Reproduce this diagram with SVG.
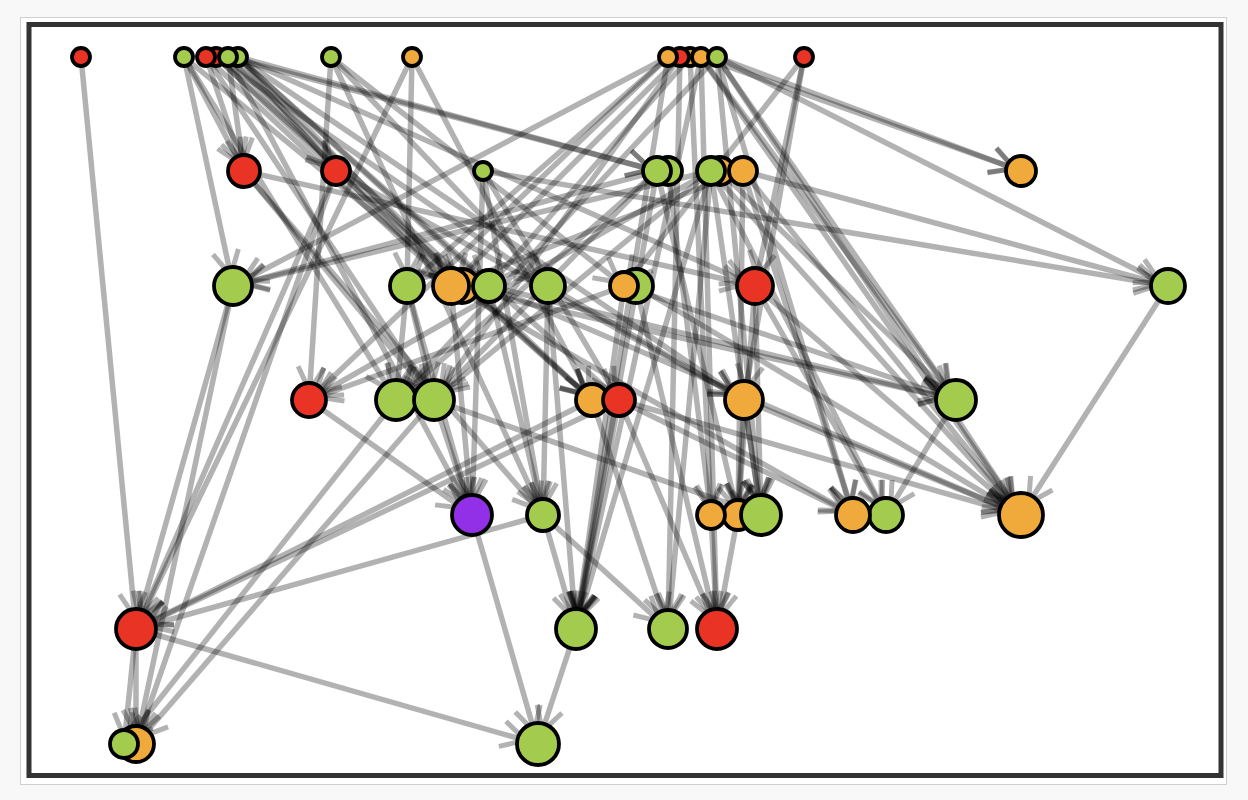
<svg xmlns="http://www.w3.org/2000/svg" width="1248" height="800" viewBox="0 0 1248 800">
<style>
.e{stroke:#000;stroke-opacity:.3;stroke-width:5.5;fill:none}
.ah{stroke:#000;stroke-opacity:.3;stroke-width:5;fill:none}
.n{stroke:#000;stroke-width:3.8}
.r{fill:#e93324}.g{fill:#a3cc4f}.o{fill:#f0a93b}.p{fill:#9130e6}
</style>
<defs>
<marker id="m14" markerUnits="userSpaceOnUse" orient="auto" refX="6" refY="0" markerWidth="20" markerHeight="20" overflow="visible"><path class="ah" d="M-24,-13L0,0L-24,13"/></marker>
<marker id="m15" markerUnits="userSpaceOnUse" orient="auto" refX="7" refY="0" markerWidth="20" markerHeight="20" overflow="visible"><path class="ah" d="M-24,-13L0,0L-24,13"/></marker>
<marker id="m16" markerUnits="userSpaceOnUse" orient="auto" refX="8" refY="0" markerWidth="20" markerHeight="20" overflow="visible"><path class="ah" d="M-24,-13L0,0L-24,13"/></marker>
<marker id="m17" markerUnits="userSpaceOnUse" orient="auto" refX="9" refY="0" markerWidth="20" markerHeight="20" overflow="visible"><path class="ah" d="M-24,-13L0,0L-24,13"/></marker>
<marker id="m18" markerUnits="userSpaceOnUse" orient="auto" refX="10" refY="0" markerWidth="20" markerHeight="20" overflow="visible"><path class="ah" d="M-24,-13L0,0L-24,13"/></marker>
<marker id="m19" markerUnits="userSpaceOnUse" orient="auto" refX="11" refY="0" markerWidth="20" markerHeight="20" overflow="visible"><path class="ah" d="M-24,-13L0,0L-24,13"/></marker>
<marker id="m20" markerUnits="userSpaceOnUse" orient="auto" refX="12" refY="0" markerWidth="20" markerHeight="20" overflow="visible"><path class="ah" d="M-24,-13L0,0L-24,13"/></marker>
<marker id="m21" markerUnits="userSpaceOnUse" orient="auto" refX="13" refY="0" markerWidth="20" markerHeight="20" overflow="visible"><path class="ah" d="M-24,-13L0,0L-24,13"/></marker>
<marker id="m22" markerUnits="userSpaceOnUse" orient="auto" refX="14" refY="0" markerWidth="20" markerHeight="20" overflow="visible"><path class="ah" d="M-24,-13L0,0L-24,13"/></marker>
</defs>
<rect x="0" y="0" width="1248" height="800" fill="#f8f8f8"/>
<rect x="20.5" y="17.5" width="1206" height="767" fill="#fff" stroke="#d0d0d0" stroke-width="1"/>
<rect x="29" y="24.5" width="1192" height="751" fill="#fff" stroke="#333" stroke-width="5"/>
<g id="edges">
<line class="e" x1="81" y1="57" x2="136" y2="629" marker-end="url(#m20)"/>
<line class="e" x1="184" y1="57" x2="244" y2="171" marker-end="url(#m16)"/>
<line class="e" x1="184" y1="57" x2="233" y2="286" marker-end="url(#m19)"/>
<line class="e" x1="184" y1="57" x2="396" y2="400" marker-end="url(#m20)"/>
<line class="e" x1="184" y1="57" x2="462" y2="286" marker-end="url(#m17)"/>
<line class="e" x1="206" y1="57" x2="244" y2="171" marker-end="url(#m16)"/>
<line class="e" x1="206" y1="57" x2="434" y2="400" marker-end="url(#m20)"/>
<line class="e" x1="206" y1="57" x2="451" y2="286" marker-end="url(#m18)"/>
<line class="e" x1="216" y1="57" x2="336" y2="171" marker-end="url(#m14)"/>
<line class="e" x1="216" y1="57" x2="548" y2="286" marker-end="url(#m17)"/>
<line class="e" x1="216" y1="57" x2="592" y2="400" marker-end="url(#m16)"/>
<line class="e" x1="228" y1="57" x2="244" y2="171" marker-end="url(#m16)"/>
<line class="e" x1="228" y1="57" x2="451" y2="286" marker-end="url(#m18)"/>
<line class="e" x1="228" y1="57" x2="472" y2="515" marker-end="url(#m20)"/>
<line class="e" x1="228" y1="57" x2="657" y2="171" marker-end="url(#m14)"/>
<line class="e" x1="228" y1="57" x2="592" y2="400" marker-end="url(#m16)"/>
<line class="e" x1="238" y1="57" x2="336" y2="171" marker-end="url(#m14)"/>
<line class="e" x1="238" y1="57" x2="489" y2="286" marker-end="url(#m16)"/>
<line class="e" x1="238" y1="57" x2="744" y2="400" marker-end="url(#m19)"/>
<line class="e" x1="238" y1="57" x2="657" y2="171" marker-end="url(#m14)"/>
<line class="e" x1="238" y1="57" x2="619" y2="400" marker-end="url(#m16)"/>
<line class="e" x1="238" y1="57" x2="755" y2="286" marker-end="url(#m18)"/>
<line class="e" x1="238" y1="57" x2="462" y2="286" marker-end="url(#m17)"/>
<line class="e" x1="331" y1="57" x2="309" y2="400" marker-end="url(#m17)"/>
<line class="e" x1="331" y1="57" x2="548" y2="286" marker-end="url(#m17)"/>
<line class="e" x1="331" y1="57" x2="624" y2="286" marker-end="url(#m14)"/>
<line class="e" x1="331" y1="57" x2="543" y2="515" marker-end="url(#m16)"/>
<line class="e" x1="412" y1="57" x2="407" y2="286" marker-end="url(#m17)"/>
<line class="e" x1="412" y1="57" x2="136" y2="629" marker-end="url(#m20)"/>
<line class="e" x1="412" y1="57" x2="592" y2="400" marker-end="url(#m16)"/>
<line class="e" x1="668" y1="57" x2="233" y2="286" marker-end="url(#m19)"/>
<line class="e" x1="668" y1="57" x2="407" y2="286" marker-end="url(#m17)"/>
<line class="e" x1="668" y1="57" x2="309" y2="400" marker-end="url(#m17)"/>
<line class="e" x1="668" y1="57" x2="576" y2="629" marker-end="url(#m20)"/>
<line class="e" x1="680" y1="57" x2="451" y2="286" marker-end="url(#m18)"/>
<line class="e" x1="680" y1="57" x2="668" y2="629" marker-end="url(#m19)"/>
<line class="e" x1="680" y1="57" x2="434" y2="400" marker-end="url(#m20)"/>
<line class="e" x1="690" y1="57" x2="489" y2="286" marker-end="url(#m16)"/>
<line class="e" x1="690" y1="57" x2="711" y2="515" marker-end="url(#m14)"/>
<line class="e" x1="701" y1="57" x2="576" y2="629" marker-end="url(#m20)"/>
<line class="e" x1="701" y1="57" x2="717" y2="629" marker-end="url(#m20)"/>
<line class="e" x1="701" y1="57" x2="1021" y2="171" marker-end="url(#m15)"/>
<line class="e" x1="701" y1="57" x2="956" y2="400" marker-end="url(#m20)"/>
<line class="e" x1="701" y1="57" x2="1021" y2="515" marker-end="url(#m22)"/>
<line class="e" x1="717" y1="57" x2="1021" y2="171" marker-end="url(#m15)"/>
<line class="e" x1="717" y1="57" x2="1168" y2="286" marker-end="url(#m17)"/>
<line class="e" x1="717" y1="57" x2="761" y2="515" marker-end="url(#m20)"/>
<line class="e" x1="717" y1="57" x2="853" y2="515" marker-end="url(#m17)"/>
<line class="e" x1="717" y1="57" x2="956" y2="400" marker-end="url(#m20)"/>
<line class="e" x1="717" y1="57" x2="1021" y2="515" marker-end="url(#m22)"/>
<line class="e" x1="717" y1="57" x2="396" y2="400" marker-end="url(#m20)"/>
<line class="e" x1="804" y1="57" x2="755" y2="286" marker-end="url(#m18)"/>
<line class="e" x1="804" y1="57" x2="624" y2="286" marker-end="url(#m14)"/>
<line class="e" x1="804" y1="57" x2="744" y2="400" marker-end="url(#m19)"/>
<line class="e" x1="244" y1="171" x2="755" y2="286" marker-end="url(#m18)"/>
<line class="e" x1="244" y1="171" x2="434" y2="400" marker-end="url(#m20)"/>
<line class="e" x1="244" y1="171" x2="543" y2="515" marker-end="url(#m16)"/>
<line class="e" x1="336" y1="171" x2="136" y2="629" marker-end="url(#m20)"/>
<line class="e" x1="336" y1="171" x2="136" y2="744" marker-end="url(#m18)"/>
<line class="e" x1="336" y1="171" x2="592" y2="400" marker-end="url(#m16)"/>
<line class="e" x1="336" y1="171" x2="744" y2="400" marker-end="url(#m19)"/>
<line class="e" x1="483" y1="171" x2="472" y2="515" marker-end="url(#m20)"/>
<line class="e" x1="483" y1="171" x2="1168" y2="286" marker-end="url(#m17)"/>
<line class="e" x1="483" y1="171" x2="619" y2="400" marker-end="url(#m16)"/>
<line class="e" x1="483" y1="171" x2="543" y2="515" marker-end="url(#m16)"/>
<line class="e" x1="657" y1="171" x2="576" y2="629" marker-end="url(#m20)"/>
<line class="e" x1="657" y1="171" x2="233" y2="286" marker-end="url(#m19)"/>
<line class="e" x1="657" y1="171" x2="396" y2="400" marker-end="url(#m20)"/>
<line class="e" x1="657" y1="171" x2="434" y2="400" marker-end="url(#m20)"/>
<line class="e" x1="657" y1="171" x2="738" y2="515" marker-end="url(#m15)"/>
<line class="e" x1="711" y1="171" x2="576" y2="629" marker-end="url(#m20)"/>
<line class="e" x1="711" y1="171" x2="668" y2="629" marker-end="url(#m19)"/>
<line class="e" x1="711" y1="171" x2="761" y2="515" marker-end="url(#m20)"/>
<line class="e" x1="711" y1="171" x2="886" y2="515" marker-end="url(#m17)"/>
<line class="e" x1="711" y1="171" x2="1021" y2="515" marker-end="url(#m22)"/>
<line class="e" x1="711" y1="171" x2="233" y2="286" marker-end="url(#m19)"/>
<line class="e" x1="711" y1="171" x2="309" y2="400" marker-end="url(#m17)"/>
<line class="e" x1="711" y1="171" x2="434" y2="400" marker-end="url(#m20)"/>
<line class="e" x1="743" y1="171" x2="1168" y2="286" marker-end="url(#m17)"/>
<line class="e" x1="743" y1="171" x2="738" y2="515" marker-end="url(#m15)"/>
<line class="e" x1="743" y1="171" x2="853" y2="515" marker-end="url(#m17)"/>
<line class="e" x1="743" y1="171" x2="1021" y2="515" marker-end="url(#m22)"/>
<line class="e" x1="743" y1="171" x2="451" y2="286" marker-end="url(#m18)"/>
<line class="e" x1="668" y1="171" x2="711" y2="515" marker-end="url(#m14)"/>
<line class="e" x1="720" y1="171" x2="956" y2="400" marker-end="url(#m20)"/>
<line class="e" x1="233" y1="286" x2="136" y2="629" marker-end="url(#m20)"/>
<line class="e" x1="233" y1="286" x2="136" y2="744" marker-end="url(#m18)"/>
<line class="e" x1="407" y1="286" x2="396" y2="400" marker-end="url(#m20)"/>
<line class="e" x1="407" y1="286" x2="472" y2="515" marker-end="url(#m20)"/>
<line class="e" x1="407" y1="286" x2="434" y2="400" marker-end="url(#m20)"/>
<line class="e" x1="451" y1="286" x2="472" y2="515" marker-end="url(#m20)"/>
<line class="e" x1="451" y1="286" x2="853" y2="515" marker-end="url(#m17)"/>
<line class="e" x1="451" y1="286" x2="956" y2="400" marker-end="url(#m20)"/>
<line class="e" x1="489" y1="286" x2="543" y2="515" marker-end="url(#m16)"/>
<line class="e" x1="489" y1="286" x2="956" y2="400" marker-end="url(#m20)"/>
<line class="e" x1="489" y1="286" x2="1021" y2="515" marker-end="url(#m22)"/>
<line class="e" x1="548" y1="286" x2="543" y2="515" marker-end="url(#m16)"/>
<line class="e" x1="548" y1="286" x2="576" y2="629" marker-end="url(#m20)"/>
<line class="e" x1="548" y1="286" x2="744" y2="400" marker-end="url(#m19)"/>
<line class="e" x1="636" y1="286" x2="717" y2="629" marker-end="url(#m20)"/>
<line class="e" x1="636" y1="286" x2="1021" y2="515" marker-end="url(#m22)"/>
<line class="e" x1="624" y1="286" x2="309" y2="400" marker-end="url(#m17)"/>
<line class="e" x1="624" y1="286" x2="576" y2="629" marker-end="url(#m20)"/>
<line class="e" x1="624" y1="286" x2="956" y2="400" marker-end="url(#m20)"/>
<line class="e" x1="755" y1="286" x2="761" y2="515" marker-end="url(#m20)"/>
<line class="e" x1="755" y1="286" x2="886" y2="515" marker-end="url(#m17)"/>
<line class="e" x1="755" y1="286" x2="1021" y2="515" marker-end="url(#m22)"/>
<line class="e" x1="755" y1="286" x2="738" y2="515" marker-end="url(#m15)"/>
<line class="e" x1="1168" y1="286" x2="1021" y2="515" marker-end="url(#m22)"/>
<line class="e" x1="309" y1="400" x2="472" y2="515" marker-end="url(#m20)"/>
<line class="e" x1="396" y1="400" x2="124" y2="744" marker-end="url(#m14)"/>
<line class="e" x1="434" y1="400" x2="472" y2="515" marker-end="url(#m20)"/>
<line class="e" x1="434" y1="400" x2="136" y2="744" marker-end="url(#m18)"/>
<line class="e" x1="434" y1="400" x2="761" y2="515" marker-end="url(#m20)"/>
<line class="e" x1="592" y1="400" x2="136" y2="629" marker-end="url(#m20)"/>
<line class="e" x1="592" y1="400" x2="668" y2="629" marker-end="url(#m19)"/>
<line class="e" x1="619" y1="400" x2="136" y2="629" marker-end="url(#m20)"/>
<line class="e" x1="619" y1="400" x2="576" y2="629" marker-end="url(#m20)"/>
<line class="e" x1="619" y1="400" x2="717" y2="629" marker-end="url(#m20)"/>
<line class="e" x1="619" y1="400" x2="853" y2="515" marker-end="url(#m17)"/>
<line class="e" x1="619" y1="400" x2="1021" y2="515" marker-end="url(#m22)"/>
<line class="e" x1="744" y1="400" x2="761" y2="515" marker-end="url(#m20)"/>
<line class="e" x1="744" y1="400" x2="738" y2="515" marker-end="url(#m15)"/>
<line class="e" x1="744" y1="400" x2="1021" y2="515" marker-end="url(#m22)"/>
<line class="e" x1="956" y1="400" x2="886" y2="515" marker-end="url(#m17)"/>
<line class="e" x1="472" y1="515" x2="538" y2="744" marker-end="url(#m21)"/>
<line class="e" x1="543" y1="515" x2="576" y2="629" marker-end="url(#m20)"/>
<line class="e" x1="543" y1="515" x2="668" y2="629" marker-end="url(#m19)"/>
<line class="e" x1="543" y1="515" x2="136" y2="629" marker-end="url(#m20)"/>
<line class="e" x1="711" y1="515" x2="717" y2="629" marker-end="url(#m20)"/>
<line class="e" x1="738" y1="515" x2="717" y2="629" marker-end="url(#m20)"/>
<line class="e" x1="136" y1="629" x2="136" y2="744" marker-end="url(#m18)"/>
<line class="e" x1="136" y1="629" x2="124" y2="744" marker-end="url(#m14)"/>
<line class="e" x1="136" y1="629" x2="538" y2="744" marker-end="url(#m21)"/>
<line class="e" x1="576" y1="629" x2="538" y2="744" marker-end="url(#m21)"/>
</g>
<g id="A1"><circle class="n r" cx="81" cy="57" r="9"/></g>
<g id="A2"><circle class="n g" cx="184" cy="57" r="9"/></g>
<g id="A6"><circle class="n g" cx="238" cy="57" r="9"/></g>
<g id="A4"><circle class="n r" cx="216" cy="57" r="9"/></g>
<g id="A5"><circle class="n g" cx="228" cy="57" r="9"/></g>
<g id="A3"><circle class="n r" cx="206" cy="57" r="9"/></g>
<g id="A7"><circle class="n g" cx="331" cy="57" r="9"/></g>
<g id="A8"><circle class="n o" cx="412" cy="57" r="9"/></g>
<g id="A11"><circle class="n o" cx="690" cy="57" r="9"/></g>
<g id="A10"><circle class="n r" cx="680" cy="57" r="9"/></g>
<g id="A9"><circle class="n o" cx="668" cy="57" r="9"/></g>
<g id="A12"><circle class="n o" cx="701" cy="57" r="9"/></g>
<g id="A13"><circle class="n g" cx="717" cy="57" r="9"/></g>
<g id="A14"><circle class="n r" cx="804" cy="57" r="9"/></g>
<g id="B1"><circle class="n r" cx="244" cy="171" r="16"/></g>
<g id="B2"><circle class="n r" cx="336" cy="171" r="14"/></g>
<g id="B3"><circle class="n g" cx="483" cy="171" r="9"/></g>
<g id="B4"><circle class="n g" cx="668" cy="171" r="14"/></g>
<g id="B5"><circle class="n g" cx="657" cy="171" r="14"/></g>
<g id="B6"><circle class="n o" cx="720" cy="171" r="14"/></g>
<g id="B7"><circle class="n g" cx="711" cy="171" r="14"/></g>
<g id="B8"><circle class="n o" cx="743" cy="171" r="14"/></g>
<g id="B9"><circle class="n o" cx="1021" cy="171" r="15"/></g>
<g id="C1"><circle class="n g" cx="233" cy="286" r="19"/></g>
<g id="C2"><circle class="n g" cx="407" cy="286" r="17"/></g>
<g id="C3"><circle class="n o" cx="462" cy="286" r="17"/></g>
<g id="C4"><circle class="n o" cx="451" cy="286" r="18"/></g>
<g id="C5"><circle class="n g" cx="489" cy="286" r="16"/></g>
<g id="C6"><circle class="n g" cx="548" cy="286" r="17"/></g>
<g id="C7"><circle class="n g" cx="636" cy="286" r="17"/></g>
<g id="C8"><circle class="n o" cx="624" cy="286" r="14"/></g>
<g id="C9"><circle class="n r" cx="755" cy="286" r="18"/></g>
<g id="C10"><circle class="n g" cx="1168" cy="286" r="17"/></g>
<g id="D1"><circle class="n r" cx="309" cy="400" r="17"/></g>
<g id="D2"><circle class="n g" cx="396" cy="400" r="20"/></g>
<g id="D3"><circle class="n g" cx="434" cy="400" r="20"/></g>
<g id="D4"><circle class="n o" cx="592" cy="400" r="16"/></g>
<g id="D5"><circle class="n r" cx="619" cy="400" r="16"/></g>
<g id="D6"><circle class="n o" cx="744" cy="400" r="19"/></g>
<g id="D7"><circle class="n g" cx="956" cy="400" r="20"/></g>
<g id="E1"><circle class="n p" cx="472" cy="515" r="20"/></g>
<g id="E2"><circle class="n g" cx="543" cy="515" r="16"/></g>
<g id="E4"><circle class="n o" cx="738" cy="515" r="15"/></g>
<g id="E3"><circle class="n o" cx="711" cy="515" r="14"/></g>
<g id="E5"><circle class="n g" cx="761" cy="515" r="20"/></g>
<g id="E7"><circle class="n g" cx="886" cy="515" r="17"/></g>
<g id="E6"><circle class="n o" cx="853" cy="515" r="17"/></g>
<g id="E8"><circle class="n o" cx="1021" cy="515" r="22"/></g>
<g id="F1"><circle class="n r" cx="136" cy="629" r="20"/></g>
<g id="F2"><circle class="n g" cx="576" cy="629" r="20"/></g>
<g id="F3"><circle class="n g" cx="668" cy="629" r="19"/></g>
<g id="F4"><circle class="n r" cx="717" cy="629" r="20"/></g>
<g id="G1"><circle class="n o" cx="136" cy="744" r="18"/></g>
<g id="G2"><circle class="n g" cx="124" cy="744" r="14"/></g>
<g id="G3"><circle class="n g" cx="538" cy="744" r="21"/></g>
</svg>
